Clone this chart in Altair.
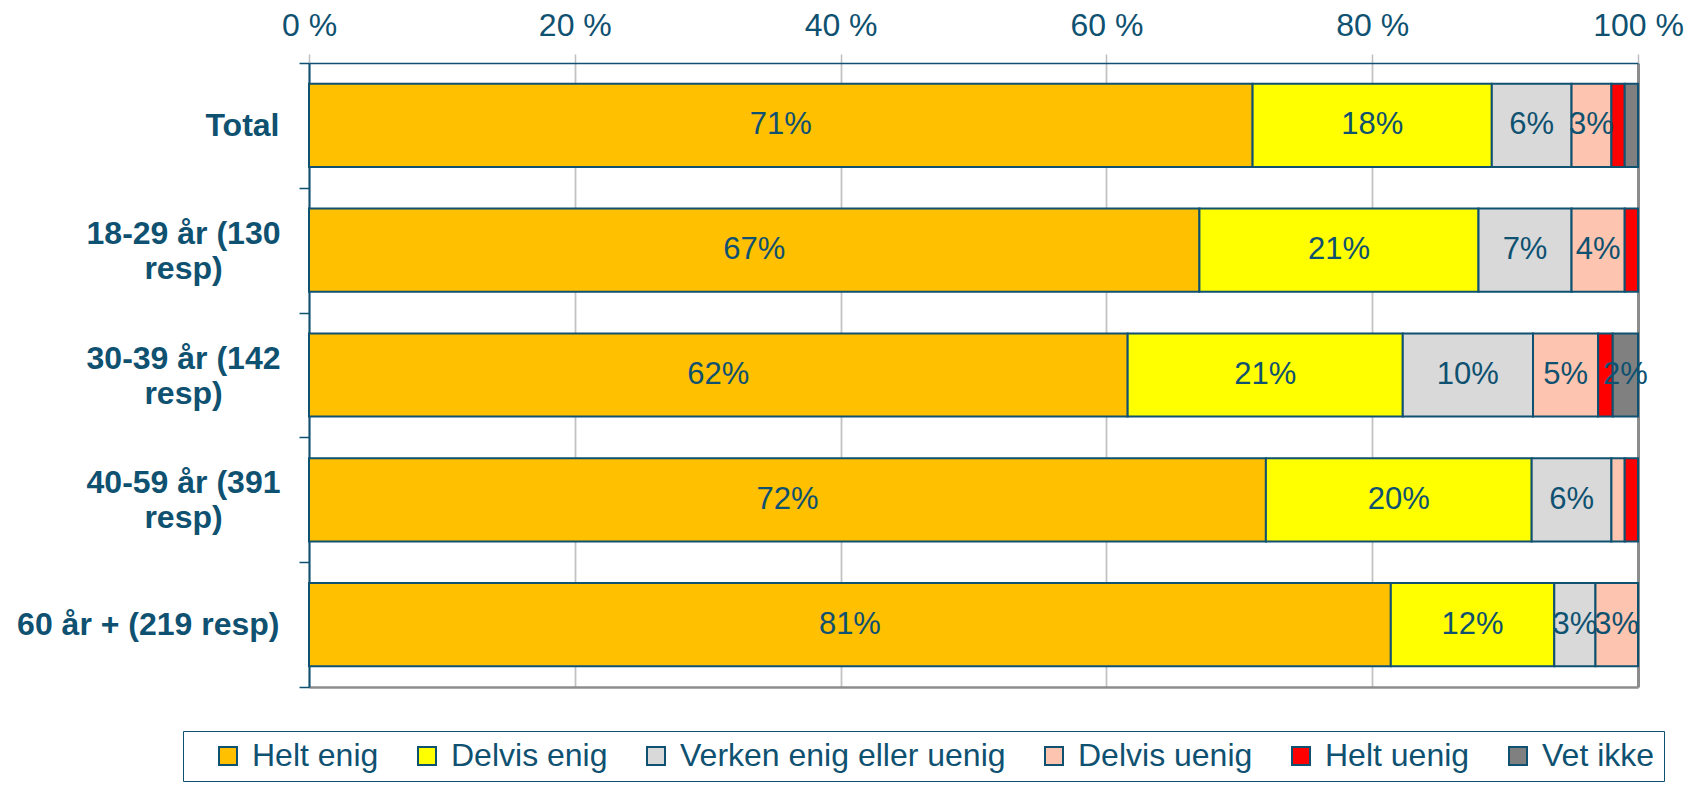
import altair as alt
import pandas as pd

groups = ["Total", "18-29 år (130 resp)", "30-39 år (142 resp)", "40-59 år (391 resp)", "60 år + (219 resp)"]
answers = ["Helt enig", "Delvis enig", "Verken enig eller uenig", "Delvis uenig", "Helt uenig", "Vet ikke"]
colors = ["#FFC000", "#FFFF00", "#D9D9D9", "#FDC5AF", "#FF0000", "#808080"]

helt_enig = [71.0, 67.0, 61.6, 72.0, 81.4]
delvis_enig = [18.0, 21.0, 20.7, 20.0, 12.3]
verken = [6.0, 7.0, 9.8, 6.0, 3.1]
delvis_uenig = [3.0, 4.0, 4.9, 1.0, 3.2]
helt_uenig = [1.0, 1.0, 1.1, 1.0, 0.0]
vet_ikke = [1.0, 0.0, 1.9, 0.0, 0.0]

series = [helt_enig, delvis_enig, verken, delvis_uenig, helt_uenig, vet_ikke]
rows = []
for ai, (ans, vals) in enumerate(zip(answers, series)):
    for g, v in zip(groups, vals):
        rows.append({"group": g, "answer": ans, "ord": ai, "value": v})
df = pd.DataFrame(rows)

TEAL = "#0F5170"
FONT = "Liberation Sans"

two_line = "indexof(datum.label, 'år (') >= 0 && indexof(datum.label, '+') < 0"
ylabel_expr = f"{two_line} ? [replace(datum.label, ' resp)', ''), 'resp)'] : datum.label"

base = (
    alt.Chart(df)
    .transform_filter("datum.value > 0")
    .transform_stack(stack="value", groupby=["group"], as_=["x0", "x1"],
                     sort=[alt.SortField("ord", order="ascending")])
    .transform_calculate(mid="(datum.x0 + datum.x1) / 2",
                         lab="format(datum.value, '.0f') + '%'")
)

yenc = alt.Y(
    "group:N", sort=groups, title=None,
    scale=alt.Scale(paddingInner=0, paddingOuter=0),
    axis=alt.Axis(
        labelExpr=ylabel_expr, labelFont=FONT, labelFontSize=32, labelFontWeight="bold",
        labelColor=TEAL, labelLineHeight=35, labelLimit=1000,
        labelAlign={"condition": {"test": two_line, "value": "center"}, "value": "right"},
        labelPadding={"condition": {"test": two_line, "value": 116}, "value": 20},
        labelOffset={"condition": {"test": two_line, "value": -17}, "value": 0},
        tickBand="extent", tickColor=TEAL, tickSize=10, tickWidth=1.5,
        domainColor=TEAL, domainWidth=2, grid=False,
    ),
)

xscale = alt.Scale(domain=[0, 100], nice=False)

bars = base.mark_bar(stroke=TEAL, strokeWidth=2, height=alt.RelativeBandSize(band=0.667)).encode(
    x=alt.X("x0:Q", scale=xscale, title=None,
            axis=alt.Axis(
                orient="top", values=[0, 20, 40, 60, 80, 100],
                labelExpr="datum.value + ' %'", labelFlush=False, labelOverlap=False,
                labelFont=FONT, labelFontSize=32, labelColor=TEAL, labelPadding=12,
                grid=True,
                gridColor={"condition": {"test": "datum.value === 100", "value": "#8C8C8C"}, "value": "#C3C3C3"},
                gridWidth={"condition": {"test": "datum.value === 100", "value": 3}, "value": 1.8},
                domainColor=TEAL, domainWidth=1.5,
                tickColor="#BFBFBF", tickSize=9, tickWidth=1.5,
            )),
    x2="x1:Q",
    y=yenc,
    color=alt.Color(
        "answer:N",
        scale=alt.Scale(domain=answers, range=colors),
        legend=alt.Legend(
            title=" ", titleOrient="left", titlePadding=20, titleFontSize=2,
            orient="none", legendX=-126, legendY=668,
            direction="horizontal", columns=6, columnPadding=32,
            symbolType="square", symbolSize=324, symbolStrokeColor=TEAL, symbolStrokeWidth=2,
            labelFont=FONT, labelFontSize=32, labelColor=TEAL, labelOffset=8, labelLimit=1000,
            padding=9, strokeColor=TEAL,
        ),
    ),
    order=alt.Order("ord:Q"),
)

text = base.transform_filter("datum.value >= 1.5").mark_text(
    font=FONT, fontSize=31, color=TEAL, align="center", baseline="middle"
).encode(
    x=alt.X("mid:Q", scale=xscale, title=None,
            axis=alt.Axis(orient="bottom", labels=False, ticks=False, grid=False,
                          domainColor="#8C8C8C", domainWidth=2.5)),
    y=yenc,
    text="lab:N",
)

chart = (
    alt.layer(bars, text)
    .resolve_axis(x="independent")
    .properties(
        width=1329, height=624,
        autosize=alt.AutoSizeParams(type="none"),
        padding={"left": 301, "top": 55, "right": 46, "bottom": 100},
    )
    .configure_view(strokeWidth=0)
)

chart.save("out.html", embed_options={"renderer": "svg", "actions": False})
